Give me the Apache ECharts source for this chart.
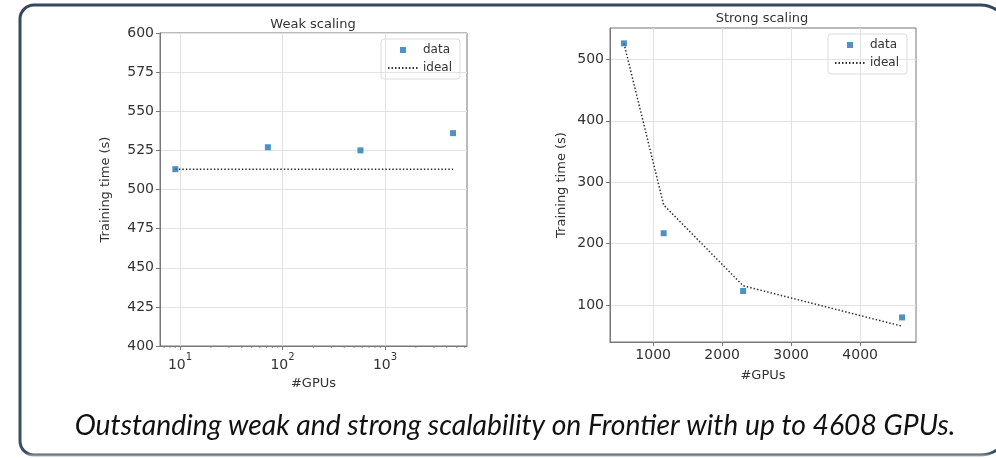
<!DOCTYPE html>
<html>
<head>
<meta charset="utf-8">
<script src="https://cdn.jsdelivr.net/npm/echarts@6/dist/echarts.min.js"></script>
<style>
  html, body { margin: 0; padding: 0; background: #fff; overflow: hidden; }
  #main { width: 996px; height: 458px; }
</style>
</head>
<body>
<div id="main"></div>
<script>
// weak scaling: GPUs vs training time (s)
var weakGpus = [9, 72, 576, 4608];
var weakTime = [513, 527, 525, 536];
var weakIdeal = [513, 513, 513, 513];
var weakMajorTicks = [10, 100, 1000];
var weakMinorTicks = [7, 8, 9, 20, 30, 40, 50, 60, 70, 80, 90,
    200, 300, 400, 500, 600, 700, 800, 900, 2000, 3000, 4000, 5000, 6000];

// strong scaling
var strongGpus = [576, 1152, 2304, 4608];
var strongTime = [526, 217, 123, 80];
var strongIdeal = [526, 263, 131.5, 65.75];
var strongXTicks = [1000, 2000, 3000, 4000];
var strongYTicks = [100, 200, 300, 400, 500];

var caption = 'Outstanding weak and strong scalability on Frontier with up to 4608 GPUs.';

var FONT = 'DejaVu Sans';
var TXT = '#333';
var AXIS = '#777';
var GRID = '#e2e2e2';
var BLUE = '#1f77b4';

function pairs(xs, ys) {
    return xs.map(function (x, i) { return [x, ys[i]]; });
}

// fit the caption font size to the width it takes in the picture
function fitFont(text, family, target) {
    var ctx = document.createElement('canvas').getContext('2d');
    ctx.font = 'italic 26px "' + family + '"';
    var w = ctx.measureText(text).width;
    return 26 * target / w;
}
var captionSize = fitFont(caption, 'Lato', 881);

function plain(v) {
    return String(v);
}

function axisCommon(extra) {
    var base = {
        axisLine: {show: true, onZero: false, lineStyle: {color: AXIS, width: 1}},
        axisTick: {show: true, length: 4, lineStyle: {color: AXIS}},
        axisLabel: {color: TXT, fontFamily: FONT, fontSize: 14, margin: 6},
        splitLine: {show: true, lineStyle: {color: GRID, width: 1}},
        nameLocation: 'middle',
        nameTextStyle: {color: TXT, fontFamily: FONT, fontSize: 13}
    };
    return Object.assign(base, extra);
}

var squareIcon = 'path://M0,0L1,0L1,1L0,1Z';

function legendAt(left, top) {
    return {
        orient: 'vertical',
        left: left, top: top,
        padding: [5, 8, 5, 6],
        itemWidth: 30, itemHeight: 6, itemGap: 6,
        borderColor: '#dcdcdc', borderWidth: 1, borderRadius: 3,
        textStyle: {color: TXT, fontFamily: FONT, fontSize: 12},
        data: [
            {name: 'data', icon: squareIcon},
            {name: 'ideal', itemStyle: {opacity: 0}}
        ]
    };
}

var myChart = echarts.init(document.getElementById('main'));
var option = {
    animation: false,
    backgroundColor: '#fff',
    grid: [
        {left: 160, top: 33, width: 307, height: 313, show: true, borderColor: AXIS, borderWidth: 1},
        {left: 610, top: 28, width: 306, height: 314, show: true, borderColor: AXIS, borderWidth: 1}
    ],
    xAxis: [
        axisCommon({
            gridIndex: 0,
            type: 'log',
            logBase: 10,
            min: 6.38,
            max: 6310,
            name: '#GPUs',
            nameGap: 29,
            axisTick: {show: true, length: 4, lineStyle: {color: AXIS}, customValues: weakMajorTicks},
            axisLabel: {
                color: TXT, fontFamily: FONT, margin: 6,
                customValues: weakMajorTicks,
                formatter: function (v) {
                    return '{b|10}{s|' + Math.round(Math.log10(v)) + '}';
                },
                rich: {
                    b: {fontSize: 14, fontFamily: FONT, color: TXT, lineHeight: 20, verticalAlign: 'bottom'},
                    s: {fontSize: 10, fontFamily: FONT, color: TXT, lineHeight: 20, verticalAlign: 'top'}
                }
            }
        }),
        axisCommon({
            gridIndex: 1,
            type: 'value',
            min: 374,
            max: 4810,
            name: '#GPUs',
            nameGap: 27,
            axisTick: {show: true, length: 4, lineStyle: {color: AXIS}, customValues: strongXTicks},
            axisLabel: {color: TXT, fontFamily: FONT, fontSize: 14, margin: 6,
                customValues: strongXTicks, formatter: plain}
        })
    ],
    yAxis: [
        axisCommon({
            gridIndex: 0,
            type: 'value',
            min: 400,
            max: 600,
            interval: 25,
            name: 'Training time (s)',
            nameGap: 48
        }),
        axisCommon({
            gridIndex: 1,
            type: 'value',
            min: 40,
            max: 551,
            name: 'Training time (s)',
            nameGap: 42,
            axisTick: {show: true, length: 4, lineStyle: {color: AXIS}, customValues: strongYTicks},
            axisLabel: {color: TXT, fontFamily: FONT, fontSize: 14, margin: 6,
                customValues: strongYTicks, formatter: plain}
        })
    ],
    legend: [legendAt(381, 39), legendAt(828, 34)],
    graphic: [
        {
            type: 'rect',
            shape: {x: 20, y: 5, width: 990, height: 450, r: [14, 30, 30, 14]},
            style: {
                fill: 'none', lineWidth: 3,
                stroke: {
                    type: 'linear', x: 0, y: 0, x2: 0, y2: 1,
                    colorStops: [
                        {offset: 0, color: '#34495e'},
                        {offset: 0.99, color: '#3a4f63'},
                        {offset: 1, color: '#c9cdd2'}
                    ]
                }
            },
            silent: true
        },
        {
            type: 'text', x: 313, y: 25,
            style: {text: 'Weak scaling', fontFamily: FONT, fontSize: 13, fill: TXT,
                textAlign: 'center', textVerticalAlign: 'middle'}
        },
        {
            type: 'text', x: 762, y: 19,
            style: {text: 'Strong scaling', fontFamily: FONT, fontSize: 13, fill: TXT,
                textAlign: 'center', textVerticalAlign: 'middle'}
        },
        {
            type: 'text', x: 515, y: 426,
            style: {text: caption, fontFamily: 'Lato', fontStyle: 'italic',
                fontSize: captionSize, fill: '#111',
                textAlign: 'center', textVerticalAlign: 'middle'}
        }
    ],
    series: [
        {
            name: 'ideal',
            type: 'line',
            xAxisIndex: 0, yAxisIndex: 0,
            symbol: 'none',
            lineStyle: {color: '#333', width: 1.5, type: [1.5, 2]},
            itemStyle: {color: '#333'},
            data: pairs(weakGpus, weakIdeal),
            z: 3
        },
        {
            name: 'data',
            type: 'scatter',
            xAxisIndex: 0, yAxisIndex: 0,
            symbol: 'rect',
            symbolSize: 6,
            itemStyle: {color: BLUE},
            data: pairs(weakGpus, weakTime),
            z: 4
        },
        {
            name: 'minor',
            type: 'scatter',
            xAxisIndex: 0, yAxisIndex: 0,
            symbol: 'rect',
            symbolSize: [1, 2],
            symbolOffset: [0, 1],
            itemStyle: {color: AXIS},
            silent: true,
            clip: false,
            data: weakMinorTicks.map(function (x) { return [x, 400]; }),
            z: 5
        },
        {
            name: 'ideal',
            type: 'line',
            xAxisIndex: 1, yAxisIndex: 1,
            symbol: 'none',
            lineStyle: {color: '#333', width: 1.5, type: [1.5, 2]},
            itemStyle: {color: '#333'},
            data: pairs(strongGpus, strongIdeal),
            z: 3
        },
        {
            name: 'data',
            type: 'scatter',
            xAxisIndex: 1, yAxisIndex: 1,
            symbol: 'rect',
            symbolSize: 6,
            itemStyle: {color: BLUE},
            data: pairs(strongGpus, strongTime),
            z: 4
        }
    ]
};
myChart.setOption(option);
</script>
</body>
</html>
